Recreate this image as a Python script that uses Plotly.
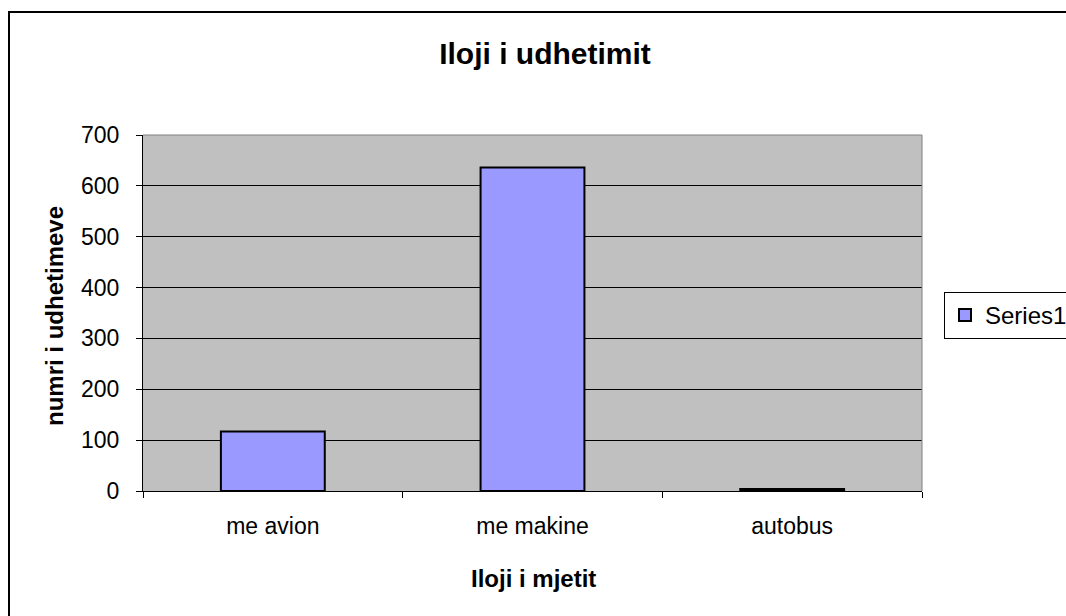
import plotly.graph_objects as go

# Travel counts per mode of transport
categories = ["me avion", "me makine", "autobus"]
values = [117, 636, 4]
series_name = "Series1"

y_ticks = [0, 100, 200, 300, 400, 500, 600, 700]

W, H = 1066, 616
L, R, T, B = 143, 922, 135, 491  # plot area edges in pixels


def px_x(p):
    return (p - L) / (R - L)


def px_y(p):
    return (B - p) / (B - T)


FONT = "Arial, Liberation Sans, sans-serif"

fig = go.Figure(
    go.Bar(
        x=categories,
        y=values,
        name=series_name,
        marker=dict(color="#9999FF", line=dict(color="black", width=2)),
        showlegend=True,
    )
)

fig.update_layout(
    width=W,
    height=H,
    margin=dict(l=L, r=W - R, t=T, b=H - B, autoexpand=False),
    paper_bgcolor="white",
    plot_bgcolor="#C0C0C0",
    bargap=0.6,
    font=dict(family=FONT, color="black", size=23),
    title=dict(
        text="<b>Iloji i udhetimit</b>",
        font=dict(size=30, family=FONT, color="black"),
        xref="container", x=545 / W, xanchor="center",
        yref="container", y=1 - 53 / H, yanchor="middle",
    ),
    legend=dict(
        x=px_x(944), xanchor="left",
        y=px_y(292), yanchor="top",
        bgcolor="white", bordercolor="black", borderwidth=1,
        font=dict(size=24, family=FONT, color="black"),
    ),
    showlegend=True,
)

fig.update_xaxes(
    type="category",
    showline=True, linecolor="black", linewidth=1,
    ticks="outside", tickson="boundaries", ticklen=6, tickcolor="black",
    showgrid=False, ticklabelstandoff=14,
    tickfont=dict(size=23, family=FONT, color="black"),
)
fig.update_yaxes(
    range=[0, 700], tickvals=y_ticks,
    showline=True, linecolor="black", linewidth=1,
    ticks="outside", ticklen=6, tickcolor="black",
    showgrid=True, gridcolor="black", gridwidth=1, zeroline=False,
    ticklabelstandoff=12,
    tickfont=dict(size=23, family=FONT, color="black"),
)

# Axis titles
fig.add_annotation(
    text="<b>Iloji i mjetit</b>", xref="paper", yref="paper",
    x=px_x(533), y=px_y(578), xanchor="center", yanchor="middle",
    showarrow=False, font=dict(size=24, family=FONT, color="black"),
)
fig.add_annotation(
    text="<b>numri i udhetimeve</b>", xref="paper", yref="paper",
    x=px_x(54), y=px_y(316), xanchor="center", yanchor="middle",
    textangle=-90, showarrow=False,
    font=dict(size=24, family=FONT, color="black"),
)

# Plot-area frame on top and right, chart frame around everything
fig.add_shape(type="line", xref="paper", yref="paper", x0=0, x1=1, y0=1, y1=1,
              line=dict(color="#808080", width=1), layer="above")
fig.add_shape(type="line", xref="paper", yref="paper", x0=1, x1=1, y0=0, y1=1,
              line=dict(color="#808080", width=1), layer="above")
fig.add_shape(type="rect", xref="paper", yref="paper",
              x0=px_x(9), x1=px_x(1080), y0=px_y(630), y1=px_y(12),
              line=dict(color="black", width=2), layer="below")

fig.write_html("out.html")
